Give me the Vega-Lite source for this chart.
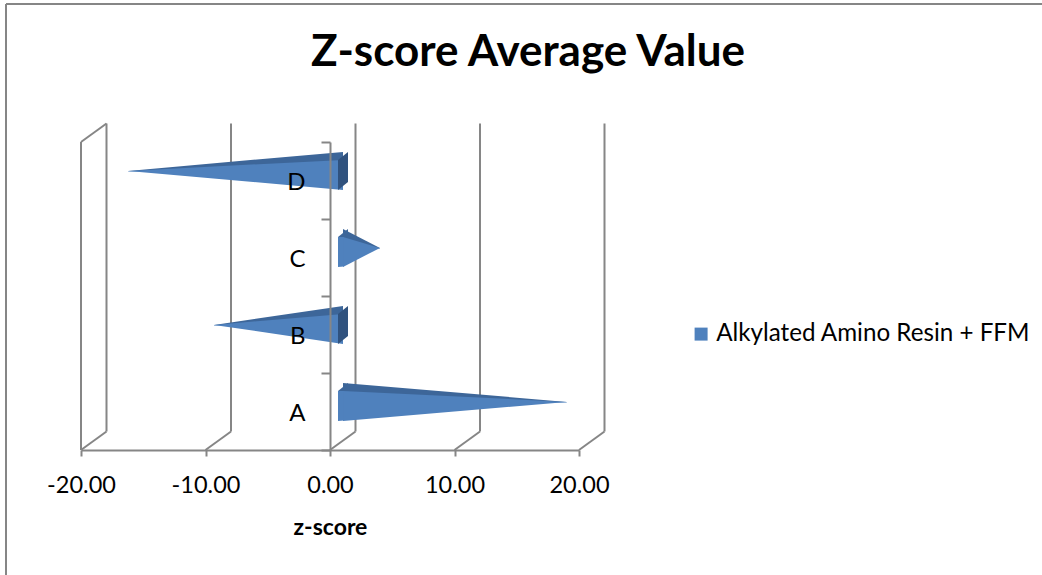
{
  "$schema": "https://vega.github.io/schema/vega-lite/v6.json",
  "width": 1036,
  "height": 571,
  "padding": {"left": 6, "top": 4, "right": 0, "bottom": 0},
  "autosize": {"type": "none"},
  "background": "white",
  "title": {
    "text": "Z-score Average Value",
    "font": "Lato",
    "fontSize": 44,
    "fontWeight": "bold",
    "color": "#000000",
    "anchor": "middle",
    "frame": "group",
    "baseline": "alphabetic",
    "offset": -118,
    "dx": 4
  },
  "config": {
    "font": "Lato",
    "view": {"stroke": "#868686", "strokeWidth": 2, "strokeDash": [1036, 1607, 571, 0]},
    "axis": {"grid": false}
  },
  "datasets": {
    "zscores": [
      {"cat": "A", "base": 0, "z": 17.97, "series": "Alkylated Amino Resin + FFM"},
      {"cat": "B", "base": 0, "z": -10.36, "series": "Alkylated Amino Resin + FFM"},
      {"cat": "C", "base": 0, "z": 2.97, "series": "Alkylated Amino Resin + FFM"},
      {"cat": "D", "base": 0, "z": -17.25, "series": "Alkylated Amino Resin + FFM"}
    ],
    "ticks": [{"v": -20}, {"v": -10}, {"v": 0}, {"v": 10}, {"v": 20}]
  },
  "resolve": {"scale": {"yOffset": "independent"}},
  "layer": [
    {
      "data": {"name": "ticks"},
      "mark": {"type": "rule", "color": "#868686", "strokeWidth": 2, "xOffset": 25.5, "yOffset": -18.5, "y2Offset": -18.5},
      "encoding": {
        "x": {"field": "v", "type": "quantitative", "scale": {"domain": [-20, 20], "range": [75, 573], "nice": false, "zero": false}},
        "y": {"datum": "D", "type": "nominal", "bandPosition": 0, "scale": {"domain": ["D", "C", "B", "A"], "range": [138, 446], "paddingInner": 0, "paddingOuter": 0}},
        "y2": {"datum": "A", "bandPosition": 1}
      }
    },
    {
      "data": {"name": "ticks"},
      "mark": {"type": "rule", "color": "#868686", "strokeWidth": 2, "x2Offset": 25.5, "y2Offset": -18.5},
      "encoding": {
        "x": {"field": "v", "type": "quantitative"},
        "x2": {"field": "v"},
        "y": {"datum": "A", "type": "nominal", "bandPosition": 1},
        "y2": {"datum": "A", "bandPosition": 1}
      }
    },
    {
      "data": {"name": "ticks"},
      "transform": [{"filter": "datum.v === -20"}],
      "mark": {"type": "rule", "color": "#868686", "strokeWidth": 2},
      "encoding": {
        "x": {"field": "v", "type": "quantitative"},
        "y": {"datum": "D", "type": "nominal", "bandPosition": 0},
        "y2": {"datum": "A", "bandPosition": 1}
      }
    },
    {
      "data": {"name": "ticks"},
      "transform": [{"filter": "datum.v === -20"}],
      "mark": {"type": "rule", "color": "#868686", "strokeWidth": 2, "x2Offset": 25.5, "y2Offset": -18.5},
      "encoding": {
        "x": {"field": "v", "type": "quantitative"},
        "x2": {"field": "v"},
        "y": {"datum": "D", "type": "nominal", "bandPosition": 0},
        "y2": {"datum": "D", "bandPosition": 0}
      }
    },
    {
      "data": {"name": "zscores"},
      "transform": [{"fold": ["base", "z"], "as": ["end", "x"]}],
      "mark": {"type": "area", "orient": "vertical", "color": "#3D6699", "xOffset": 13, "y2Offset": -9.6},
      "encoding": {
        "x": {"field": "x", "type": "quantitative"},
        "y": {"field": "cat", "type": "nominal"},
        "y2": {"field": "cat"},
        "yOffset": {"field": "end", "type": "nominal", "scale": {"type": "point", "domain": ["base", "z"], "range": [9.9, 28.9], "padding": 0}},
        "detail": {"field": "cat"}
      }
    },
    {
      "data": {"name": "zscores"},
      "transform": [{"filter": "datum.z > 0"}],
      "mark": {"type": "point", "shape": "M-0.333,-0.733L0.333,-1.267L0.333,-0.6Z", "size": 900, "filled": true, "opacity": 1, "color": "#3D6699", "xOffset": 13, "yOffset": -9.6},
      "encoding": {
        "x": {"field": "base", "type": "quantitative"},
        "y": {"field": "cat", "type": "nominal"}
      }
    },
    {
      "data": {"name": "zscores"},
      "transform": [{"fold": ["base", "z"], "as": ["end", "x"]}],
      "mark": {"type": "area", "orient": "vertical", "xOffset": 13, "y2Offset": -9.0},
      "encoding": {
        "x": {
          "field": "x",
          "type": "quantitative",
          "axis": {
            "orient": "bottom",
            "offset": -125,
            "values": [-20, -10, 0, 10, 20],
            "format": ".2f",
            "labelExpr": "replace(datum.label, '\u2212', '-')",
            "title": "z-score",
            "titleFont": "Lato",
            "titleFontSize": 23,
            "titleFontWeight": "bold",
            "titleColor": "#000000",
            "titlePadding": 20,
            "domainColor": "#868686",
            "domainWidth": 2,
            "tickColor": "#868686",
            "tickWidth": 2,
            "tickSize": 6,
            "labelFont": "Lato",
            "labelFontSize": 23.5,
            "labelColor": "#000000",
            "labelPadding": 17,
            "labelFlush": false,
            "grid": false
          }
        },
        "y": {
          "field": "cat",
          "type": "nominal",
          "axis": {
            "orient": "left",
            "offset": -324,
            "zindex": 1,
            "title": null,
            "tickBand": "extent",
            "domainColor": "#868686",
            "domainWidth": 2,
            "tickColor": "#868686",
            "tickWidth": 2,
            "tickSize": 9,
            "labelFont": "Lato",
            "labelFontSize": 24,
            "labelColor": "#000000",
            "labelPadding": 16,
            "labelBaseline": "middle",
            "labelOffset": 2,
            "grid": false
          }
        },
        "y2": {"field": "cat"},
        "yOffset": {"field": "end", "type": "nominal", "scale": {"type": "point", "domain": ["base", "z"], "range": [17.9, 28.9], "padding": 0}},
        "detail": {"field": "cat"},
        "color": {
          "field": "series",
          "type": "nominal",
          "scale": {"range": ["#4F81BD"]},
          "legend": {
            "orient": "none",
            "legendX": 683,
            "legendY": 318,
            "title": null,
            "padding": 0,
            "symbolType": "square",
            "symbolSize": 169,
            "symbolStrokeWidth": 0,
            "labelFont": "Lato",
            "labelFontSize": 24.2,
            "labelColor": "#000000",
            "labelOffset": 3,
            "labelLimit": 500
          }
        }
      }
    },
    {
      "data": {"name": "zscores"},
      "transform": [{"fold": ["base", "z"], "as": ["end", "x"]}],
      "mark": {"type": "area", "orient": "vertical", "xOffset": 13, "y2Offset": -9.6},
      "encoding": {
        "x": {"field": "x", "type": "quantitative"},
        "y": {"field": "cat", "type": "nominal"},
        "y2": {"field": "cat"},
        "yOffset": {"field": "end", "type": "nominal", "scale": {"type": "point", "domain": ["base", "z"], "range": [47.9, 28.9], "padding": 0}},
        "detail": {"field": "cat"},
        "color": {"field": "series", "type": "nominal"}
      }
    },
    {
      "data": {"name": "zscores"},
      "transform": [{"filter": "datum.z > 0"}],
      "mark": {"type": "point", "shape": "M-0.333,-0.733L0.05,-0.72L0.05,1.24L-0.333,1.267Z", "size": 900, "filled": true, "opacity": 1, "color": "#4F81BD", "xOffset": 13, "yOffset": -9.6},
      "encoding": {
        "x": {"field": "base", "type": "quantitative"},
        "y": {"field": "cat", "type": "nominal"}
      }
    },
    {
      "data": {"name": "zscores"},
      "transform": [{"filter": "datum.z < 0"}],
      "mark": {"type": "point", "shape": "M-0.333,-0.733L0.333,-1.267L0.333,0.733L-0.333,1.267Z", "size": 900, "filled": true, "opacity": 1, "color": "#30527E", "xOffset": 13, "yOffset": -9.6},
      "encoding": {
        "x": {"field": "base", "type": "quantitative"},
        "y": {"field": "cat", "type": "nominal"}
      }
    }
  ]
}
